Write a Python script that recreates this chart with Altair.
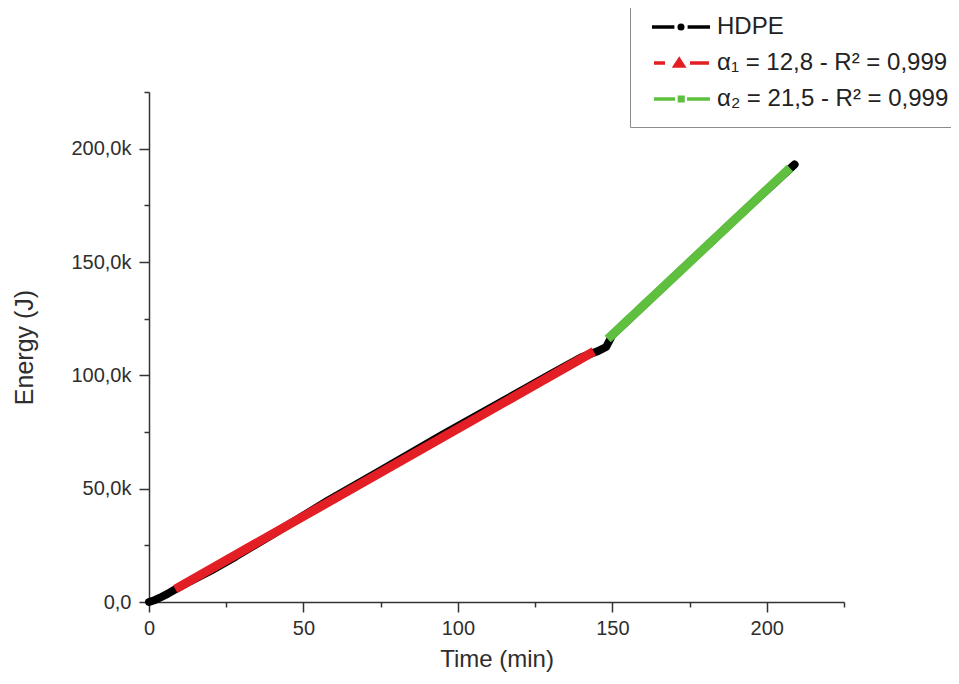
import altair as alt
import pandas as pd

# ---- data ----
hdpe_t = [0, 2, 4, 6, 8, 12, 20, 28, 40, 58, 75, 95, 115, 130, 140, 145, 148, 150, 170, 190, 209]
hdpe_e = [0, 900, 2200, 3600, 5200, 8200, 13800, 20000, 29800, 44800, 58000, 73800, 89000,
          100500, 108000, 110500, 112500, 117800, 143500, 169200, 193000]

fit1_t = [8.5, 144.0]
fit1_e = [5700, 110500]

fit2_t = [148.5, 207.5]
fit2_e = [116000, 191500]

series_names = ["HDPE", "\u03b1\u2081 = 12,8 - R\u00b2 = 0,999", "\u03b1\u2082 = 21,5 - R\u00b2 = 0,999"]
series_colors = ["#000000", "#e31e24", "#5fbf3f"]

# legend glyphs: dash - marker - dash (unit = sqrt(symbolSize)/2 px)
legend_paths = [
    "M-0.67,0H1.2M2.3,0H4.17M1.6,0A0.15,0.15 0 1,1 1.9,0A0.15,0.15 0 1,1 1.6,0Z",
    "M-0.5,0H0.42M2.5,0H4.08M1.25,0.25L1.6,-0.3L1.95,0.25Z",
    "M-0.5,0H1.25M2.25,0H4.17M1.62,-0.15H1.92V0.15H1.62Z",
]

rows = []
for name, ts, es in zip(series_names, [hdpe_t, fit1_t, fit2_t], [hdpe_e, fit1_e, fit2_e]):
    for i, (t, e) in enumerate(zip(ts, es)):
        rows.append({"series": name, "t": t, "E": e, "i": i})
df = pd.DataFrame(rows)

FONT = "Liberation Sans"
TXT = "#2e2e2e"

x_axis = alt.Axis(
    title="Time (min)",
    values=[0, 25, 50, 75, 100, 125, 150, 175, 200, 225],
    labelExpr="datum.value % 50 == 0 ? datum.label : ''",
    labelOverlap=False, labelFlush=False, grid=False,
    tickSize={"condition": {"test": "datum.value % 50 == 0", "value": 10}, "value": 5},
    tickWidth=1.5, tickColor="#333333", domainColor="#333333", domainWidth=1.5,
    labelFont=FONT, labelFontSize=20, labelColor=TXT, labelPadding=6,
    titleFont=FONT, titleFontSize=24, titleFontWeight="normal", titleColor=TXT, titlePadding=9,
)
y_axis = alt.Axis(
    title="Energy (J)",
    values=[0, 25000, 50000, 75000, 100000, 125000, 150000, 175000, 200000, 225000],
    labelExpr="datum.value % 50000 == 0 ? (datum.value == 0 ? '0,0' : replace(format(datum.value / 1000, '.1f'), '.', ',') + 'k') : ''",
    labelOverlap=False, grid=False,
    tickSize={"condition": {"test": "datum.value % 50000 == 0", "value": 10}, "value": 5},
    tickWidth=1.5, tickColor="#333333", domainColor="#333333", domainWidth=1.5,
    labelFont=FONT, labelFontSize=20, labelColor=TXT, labelPadding=8,
    titleFont=FONT, titleFontSize=25, titleFontWeight="normal", titleColor=TXT, titlePadding=33,
)

base = alt.Chart(df).encode(
    x=alt.X("t:Q", scale=alt.Scale(domain=[0, 225], nice=False, zero=False), axis=x_axis),
    y=alt.Y("E:Q", scale=alt.Scale(domain=[0, 225000], nice=False, zero=False), axis=y_axis),
    order="i:Q",
)

black = base.transform_filter(alt.datum.series == series_names[0]).mark_line(
    color=series_colors[0], strokeWidth=8, strokeCap="round", strokeJoin="round")
red = base.transform_filter(alt.datum.series == series_names[1]).mark_line(
    color=series_colors[1], strokeWidth=9, strokeCap="butt")
green = base.transform_filter(alt.datum.series == series_names[2]).mark_line(
    color=series_colors[2], strokeWidth=9, strokeCap="butt")

leg = dict(
    orient="none", legendX=481, legendY=-95, title=None, padding=16,
    symbolSize=576, symbolStrokeWidth=3.5, symbolOpacity=1,
    labelFont=FONT, labelFontSize=24, labelColor="#222222", labelOffset=43,
    labelLimit=400, rowPadding=10, strokeColor="#8c8c8c", fillColor="white",
)

legend_layer = base.mark_point(opacity=0, filled=True).encode(
    fill=alt.Fill("series:N", scale=alt.Scale(domain=series_names, range=series_colors), legend=alt.Legend(**leg)),
    stroke=alt.Stroke("series:N", scale=alt.Scale(domain=series_names, range=series_colors), legend=alt.Legend(**leg)),
    shape=alt.Shape("series:N", scale=alt.Scale(domain=series_names, range=legend_paths), legend=alt.Legend(**leg)),
)

chart = alt.layer(legend_layer, black, red, green).properties(
    width=695, height=510,
    autosize="none",
    padding={"left": 141, "top": 84, "right": 107, "bottom": 74},
    background="white",
).configure_view(stroke=None)

chart.save("out.html", embed_options={"renderer": "svg", "actions": False})
